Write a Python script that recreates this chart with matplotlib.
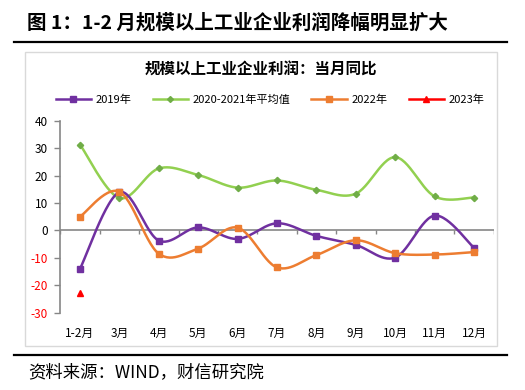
import numpy as np
import matplotlib
matplotlib.use("Agg")
import matplotlib.pyplot as plt
from matplotlib.lines import Line2D
from matplotlib.patches import Rectangle

plt.rcParams['font.family'] = ['Noto Sans CJK SC', 'DejaVu Sans']

categories = ['1-2月', '3月', '4月', '5月', '6月', '7月', '8月', '9月', '10月', '11月', '12月']
y2019 = [-14.0, 13.9, -3.7, 1.1, -3.1, 2.6, -2.0, -5.3, -9.9, 5.4, -6.3]
y2020_21 = [31.3, 11.8, 22.6, 20.2, 15.6, 18.2, 14.8, 13.4, 26.7, 12.4, 12.0]
y2022 = [5.0, 14.1, -8.5, -6.6, 1.0, -13.5, -9.0, -3.6, -8.3, -8.8, -7.9]
y2023 = [-22.9]
series_names = ['2019年', '2020-2021年平均值', '2022年', '2023年']
yticks = [40, 30, 20, 10, 0, -10, -20, -30]

C_PURPLE = '#7030A0'
C_GREEN = '#92D050'
C_ORANGE = '#ED7D31'
C_RED = '#FF0000'


def smooth(xs, ys, n=30):
    xs = np.asarray(xs, float)
    ys = np.asarray(ys, float)
    P = np.column_stack([xs, ys])
    out = []
    for i in range(len(P) - 1):
        p0 = P[i - 1] if i > 0 else P[i]
        p1 = P[i]
        p2 = P[i + 1]
        p3 = P[i + 2] if i + 2 < len(P) else P[i + 1]
        c1 = p1 + (p2 - p0) / 6.0
        c2 = p2 - (p3 - p1) / 6.0
        t = np.linspace(0, 1, n)[:, None]
        b = ((1 - t) ** 3) * p1 + 3 * ((1 - t) ** 2) * t * c1 + 3 * (1 - t) * t ** 2 * c2 + t ** 3 * p2
        out.append(b if i == 0 else b[1:])
    out = np.vstack(out)
    return out[:, 0], out[:, 1]


fig = plt.figure(figsize=(5.25, 3.9), dpi=100)

# heading and rules
fig.text(27 / 525, 1 - 23 / 390, '图 1：1-2 月规模以上工业企业利润降幅明显扩大',
         fontsize=14, fontweight='bold', ha='left', va='center')
fig.add_artist(Line2D([14 / 525, 507 / 525], [1 - 41.5 / 390] * 2, color='black', lw=1.6))
fig.add_artist(Line2D([14 / 525, 507 / 525], [1 - 355 / 390] * 2, color='black', lw=1.6))
fig.add_artist(Rectangle((25 / 525, 1 - 346 / 390), 472 / 525, 294 / 390,
                         fill=False, edgecolor='#D9D9D9', lw=1.0))
fig.text(28 / 525, 1 - 372 / 390, '资料来源：WIND，财信研究院', fontsize=12.5,
         style='italic', ha='left', va='center')

# chart title
fig.text(261 / 525, 1 - 70 / 390, '规模以上工业企业利润：当月同比', fontsize=11.2,
         fontweight='bold', ha='center', va='center')

ax = fig.add_axes([60.3 / 525, 1 - 312.7 / 390, 433.4 / 525, 192 / 390])
x = np.arange(len(categories))

sx, sy = smooth(x, y2020_21)
ax.plot(sx, sy, color=C_GREEN, lw=1.8, zorder=3, solid_capstyle='round')
ax.plot(x, y2020_21, ls='none', marker='D', ms=3.2, color='#70AD47', zorder=4)

sx, sy = smooth(x, y2019)
ax.plot(sx, sy, color=C_PURPLE, lw=1.8, zorder=5, solid_capstyle='round')
ax.plot(x, y2019, ls='none', marker='s', ms=5, color=C_PURPLE, zorder=6)

sx, sy = smooth(x, y2022)
ax.plot(sx, sy, color=C_ORANGE, lw=1.8, zorder=7, solid_capstyle='round')
ax.plot(x, y2022, ls='none', marker='s', ms=5, color=C_ORANGE, zorder=8)

ax.plot(x[:len(y2023)], y2023, ls='none', marker='^', ms=4.5, color=C_RED, zorder=9)

ax.set_xlim(-0.5, len(categories) - 0.5)
ax.set_ylim(-30, 40)

for s in ['top', 'right', 'bottom']:
    ax.spines[s].set_visible(False)
ax.spines['left'].set_color('#868686')
ax.spines['left'].set_linewidth(1.2)

ax.axhline(0, color='#868686', lw=1.2, zorder=2)
bounds = np.arange(len(categories) + 1) - 0.5
ax.vlines(bounds, -1.3, 0, color='#868686', lw=1.0, zorder=2)

ax.set_yticks(yticks)
ax.set_yticklabels([str(v) for v in yticks])
for lab, v in zip(ax.get_yticklabels(), yticks):
    lab.set_color(C_RED if v < 0 else 'black')
ax.tick_params(axis='y', length=4, width=1.0, color='#868686', labelsize=8.5, pad=5)

ax.set_xticks(x)
ax.set_xticklabels(categories)
ax.tick_params(axis='x', length=0, labelsize=8.5, pad=10)

handles = [
    Line2D([], [], color=C_PURPLE, lw=1.8, marker='s', ms=5),
    Line2D([], [], color=C_GREEN, lw=1.8, marker='D', ms=3, markerfacecolor='#70AD47', markeredgecolor='#70AD47'),
    Line2D([], [], color=C_ORANGE, lw=1.8, marker='s', ms=5),
    Line2D([], [], color=C_RED, lw=1.8, marker='^', ms=4),
]
fig.legend(handles, series_names, loc='center', bbox_to_anchor=(270 / 525, 1 - 100 / 390),
           ncol=4, frameon=False, fontsize=8, handlelength=3.2, columnspacing=1.9,
           handletextpad=0.4, borderaxespad=0)

fig.savefig('out.png', dpi=100)
